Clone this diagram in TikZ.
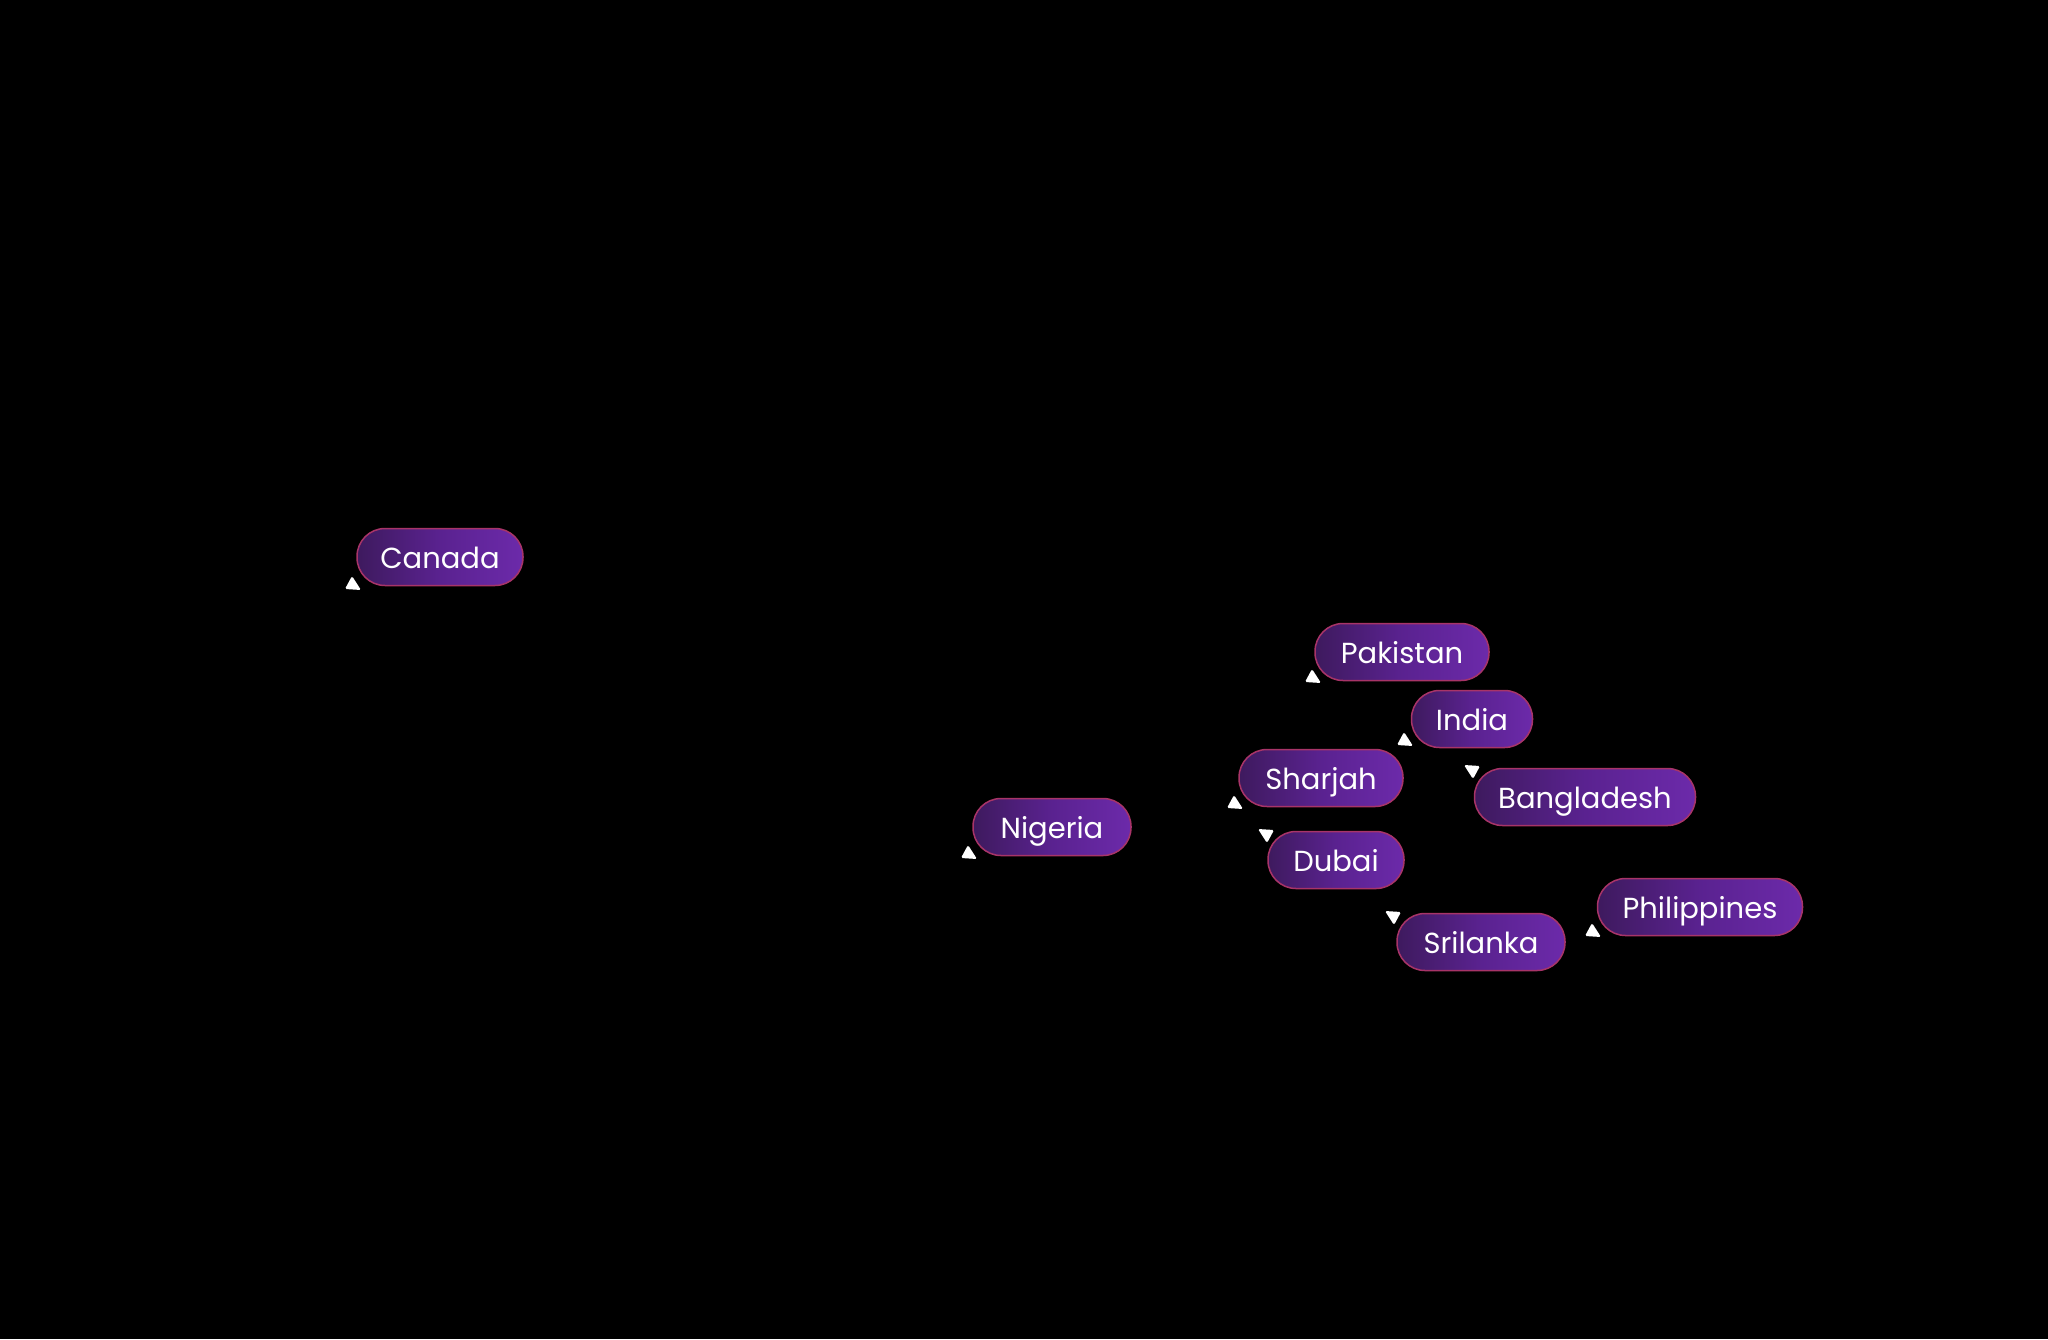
\documentclass[tikz,border=0pt]{standalone}
\usepackage{fontspec}
\setmainfont{Poppins}
\begin{document}
\begin{tikzpicture}[x=1pt,y=-1pt,
 pill/.style={rounded corners=28pt,draw=pbord,line width=1.5pt,left color=pdark,right color=plight,middle color=pmid,text=white,font=\fontsize{29}{31}\selectfont,minimum height=57pt,inner sep=0pt,text height=26pt,text depth=4pt},
 up/.style={fill=white},]
\definecolor{pdark}{HTML}{3E1A5E}
\definecolor{pmid}{HTML}{5A2290}
\definecolor{plight}{HTML}{6C2AAA}
\definecolor{pbord}{HTML}{A83468}
\fill[black] (0,0) rectangle (2048,1339);
\useasboundingbox (0,0) rectangle (2048,1339);
\node[pill,minimum width=166pt] (canada) at (440,557) {Canada};
\node[pill,minimum width=174pt] (pakistan) at (1402,652) {Pakistan};
\node[pill,minimum width=121pt] (india) at (1472,719) {India};
\node[pill,minimum width=164pt] (sharjah) at (1321,778) {Sharjah};
\node[pill,minimum width=221pt] (bangladesh) at (1585,797) {Bangladesh};
\node[pill,minimum width=158pt] (nigeria) at (1052,827) {Nigeria};
\node[pill,minimum width=136pt] (dubai) at (1336,860) {Dubai};
\node[pill,minimum width=205pt] (philippines) at (1700,907) {Philippines};
\node[pill,minimum width=168pt] (srilanka) at (1481,942) {Srilanka};
\foreach \x/\y in {353/584,1313/677,1405/740,1235/803,969/853,1593/931}
  \fill[white,rounded corners=1.5pt] (\x-1,\y-8) -- (\x+8,\y+6) -- (\x-8,\y+5) -- cycle;
\foreach \x/\y in {1472/771,1266/835,1393/917}
  \fill[white,rounded corners=1.5pt] (\x+1,\y+8) -- (\x-8,\y-6) -- (\x+8,\y-5) -- cycle;
\end{tikzpicture}
\end{document}
